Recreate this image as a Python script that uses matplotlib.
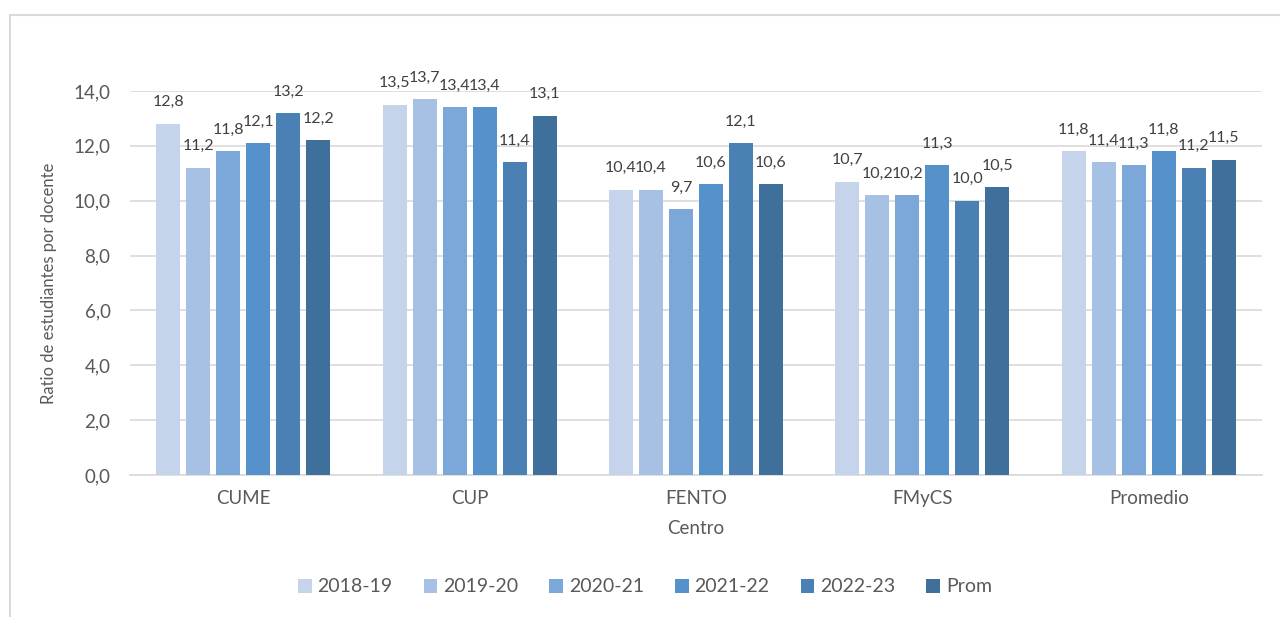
import numpy as np
import matplotlib
matplotlib.use("Agg")
import matplotlib.pyplot as plt
from matplotlib.patches import Rectangle

plt.rcParams['font.family'] = ['Lato', 'DejaVu Sans']

centros = ["CUME", "CUP", "FENTO", "FMyCS", "Promedio"]
periodos = ["2018-19", "2019-20", "2020-21", "2021-22", "2022-23", "Prom"]

r_2018 = [12.8, 13.5, 10.4, 10.7, 11.8]
r_2019 = [11.2, 13.7, 10.4, 10.2, 11.4]
r_2020 = [11.8, 13.4, 9.7, 10.2, 11.3]
r_2021 = [12.1, 13.4, 10.6, 11.3, 11.8]
r_2022 = [13.2, 11.4, 12.1, 10.0, 11.2]
r_prom = [12.2, 13.1, 10.6, 10.5, 11.5]

colores = ["#C5D4EA", "#A7C1E4", "#7CA8D9", "#5592CB", "#4A80B3", "#3F6F9B"]

gris = "#595959"

fig = plt.figure(figsize=(12.8, 6.17), dpi=100)
ax = fig.add_axes([130 / 1280, 1 - 475 / 617, 1132 / 1280, 384 / 617])

# frame around the chart area
fig.patches.append(Rectangle((10 / 1280, -0.05), 1.1, 1.05 - 15 / 617,
                             transform=fig.transFigure, fill=False,
                             edgecolor="#D9D9D9", linewidth=1.5))

x = np.arange(len(centros))
step = 0.1325
width = 0.106
series = [r_2018, r_2019, r_2020, r_2021, r_2022, r_prom]

for i, (vals, lab, col) in enumerate(zip(series, periodos, colores)):
    pos = x + (i - 2.5) * step
    bars = ax.bar(pos, vals, width, color=col, label=lab, zorder=3)
    for b, v in zip(bars, vals):
        ax.annotate(f"{v:.1f}".replace(".", ","),
                    (b.get_x() + b.get_width() / 2, v),
                    xytext=(0, 15.5), textcoords="offset points",
                    ha="center", va="center", fontsize=11.5, color="#404040",
                    annotation_clip=False)

ax.set_xlim(-0.5, len(centros) - 0.5)
ax.set_ylim(0, 14)
ax.set_yticks(np.arange(0, 14.1, 2))
ax.set_yticklabels([f"{t:.1f}".replace(".", ",") for t in np.arange(0, 14.1, 2)])
ax.set_xticks(x)
ax.set_xticklabels(centros)

ax.grid(axis="y", color="#D9D9D9", linewidth=1.2, zorder=0)
ax.set_axisbelow(True)
for s in ["top", "right", "left"]:
    ax.spines[s].set_visible(False)
ax.spines["bottom"].set_color("#D9D9D9")
ax.spines["bottom"].set_linewidth(1.2)
ax.tick_params(axis="both", length=0, labelsize=13.5, colors=gris)
ax.tick_params(axis="x", pad=11)
ax.tick_params(axis="y", pad=14)

ax.set_xlabel("Centro", fontsize=13.5, color=gris, labelpad=9)
ax.set_ylabel("Ratio de estudiantes por docente", fontsize=12, color=gris,
              labelpad=12)

fig.legend(loc="center", bbox_to_anchor=(645 / 1280, 1 - 587 / 617), ncol=6,
           frameon=False, fontsize=14, handlelength=0.7, handleheight=0.7,
           handletextpad=0.3, columnspacing=1.6, labelcolor=gris)

fig.savefig("out.png", dpi=100)
